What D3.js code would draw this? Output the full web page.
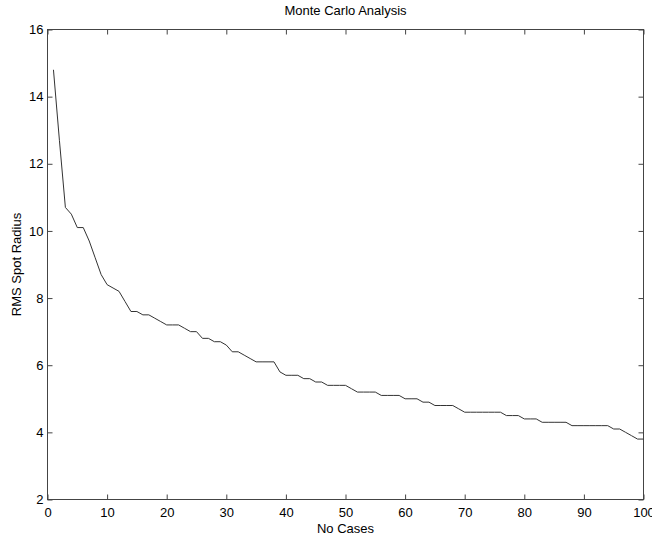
<!DOCTYPE html>
<html>
<head>
<meta charset="utf-8">
<script src="https://cdn.jsdelivr.net/npm/d3@7/dist/d3.min.js"></script>
<style>
  html, body { margin: 0; padding: 0; background: #fff; }
  svg { display: block; }
  text { font-family: "Liberation Sans", Arial, sans-serif; fill: #000; }
</style>
</head>
<body>
<svg id="chart" width="652" height="538"></svg>
<script>
const cases = d3.range(1, 101);
const rmsSpotRadius = [
  14.8, 12.7, 10.7, 10.5, 10.1, 10.1, 9.7, 9.2, 8.7, 8.4,
  8.3, 8.2, 7.9, 7.6, 7.6, 7.5, 7.5, 7.4, 7.3, 7.2,
  7.2, 7.2, 7.1, 7.0, 7.0, 6.8, 6.8, 6.7, 6.7, 6.6,
  6.4, 6.4, 6.3, 6.2, 6.1, 6.1, 6.1, 6.1, 5.8, 5.7,
  5.7, 5.7, 5.6, 5.6, 5.5, 5.5, 5.4, 5.4, 5.4, 5.4,
  5.3, 5.2, 5.2, 5.2, 5.2, 5.1, 5.1, 5.1, 5.1, 5.0,
  5.0, 5.0, 4.9, 4.9, 4.8, 4.8, 4.8, 4.8, 4.7, 4.6,
  4.6, 4.6, 4.6, 4.6, 4.6, 4.6, 4.5, 4.5, 4.5, 4.4,
  4.4, 4.4, 4.3, 4.3, 4.3, 4.3, 4.3, 4.2, 4.2, 4.2,
  4.2, 4.2, 4.2, 4.2, 4.1, 4.1, 4.0, 3.9, 3.8, 3.8
];
const xTicks = [0, 10, 20, 30, 40, 50, 60, 70, 80, 90, 100];
const yTicks = [2, 4, 6, 8, 10, 12, 14, 16];
const titleText = "Monte Carlo Analysis";
const xLabel = "No Cases";
const yLabel = "RMS Spot Radius";

const svg = d3.select("#chart");
const L = 47.5, R = 643.5, T = 29.5, B = 499.5;
const x = d3.scaleLinear().domain([0, 100]).range([L, R]);
const y = d3.scaleLinear().domain([2, 16]).range([B, T]);
const axisColor = "#444";
const tickLen = 5;

function styleAxis(g) {
  g.select(".domain").remove();
  g.selectAll(".tick line").attr("stroke", axisColor);
  g.selectAll(".tick text").attr("font-size", 13).attr("fill", "#000")
    .style("font-family", '"Liberation Sans", Arial, sans-serif');
}

// bottom axis (ticks inward)
svg.append("g").attr("transform", `translate(0,${B})`)
  .call(d3.axisBottom(x).tickValues(xTicks).tickSizeInner(-tickLen).tickSizeOuter(0).tickPadding(8).tickFormat(d3.format("d")))
  .call(styleAxis);
// top axis ticks, no labels
svg.append("g").attr("transform", `translate(0,${T})`)
  .call(d3.axisTop(x).tickValues(xTicks).tickSizeInner(-tickLen).tickSizeOuter(0).tickFormat(""))
  .call(styleAxis);
// left axis
svg.append("g").attr("transform", `translate(${L},0)`)
  .call(d3.axisLeft(y).tickValues(yTicks).tickSizeInner(-tickLen).tickSizeOuter(0).tickPadding(4).tickFormat(d3.format("d")))
  .call(styleAxis);
// right axis ticks
svg.append("g").attr("transform", `translate(${R},0)`)
  .call(d3.axisRight(y).tickValues(yTicks).tickSizeInner(-tickLen).tickSizeOuter(0).tickFormat(""))
  .call(styleAxis);

// box
svg.append("rect").attr("x", L).attr("y", T).attr("width", R - L).attr("height", B - T)
  .attr("fill", "none").attr("stroke", axisColor).attr("stroke-width", 1);

// data line
const line = d3.line().x((d, i) => x(cases[i])).y(d => y(d));
svg.append("path").datum(rmsSpotRadius)
  .attr("d", line).attr("fill", "none").attr("stroke", "#333").attr("stroke-width", 1);

// title and labels
svg.append("text").attr("x", (L + R) / 2).attr("y", 15).attr("text-anchor", "middle")
  .attr("font-size", 13).text(titleText);
svg.append("text").attr("x", (L + R) / 2).attr("y", 533).attr("text-anchor", "middle")
  .attr("font-size", 13).text(xLabel);
svg.append("text").attr("transform", `translate(21,${(T + B) / 2}) rotate(-90)`)
  .attr("text-anchor", "middle").attr("font-size", 13).text(yLabel);
</script>
</body>
</html>
